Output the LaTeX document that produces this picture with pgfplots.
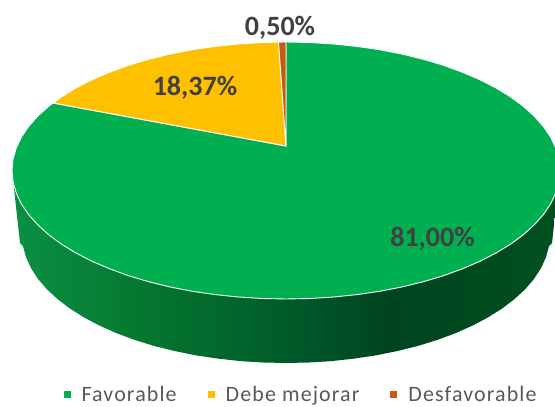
\documentclass[border=0pt]{standalone}
\usepackage{fontspec}
\setmainfont{Carlito}
\newfontfamily\legfont[LetterSpace=5]{Carlito}
\usepackage{pgfplots}
\pgfplotsset{compat=1.18}

\definecolor{fav}{HTML}{00B050}
\definecolor{mej}{HTML}{FFC000}
\definecolor{des}{HTML}{C55A11}
\definecolor{lbl}{HTML}{404040}
\definecolor{leg}{HTML}{595959}
\definecolor{sideA}{HTML}{0A9043}
\definecolor{sideB}{HTML}{04772F}
\definecolor{sideC}{HTML}{005B2A}
\definecolor{sideD}{HTML}{00441F}
\definecolor{sideE}{HTML}{00501F}
% middle 50bp of the shading covers the bounding box of the side
\pgfdeclarehorizontalshading{pieside}{100bp}{
  color(0bp)=(sideA); color(25.4bp)=(sideA); color(37bp)=(sideB);
  color(50bp)=(sideC); color(59.5bp)=(sideD); color(75bp)=(sideE); color(100bp)=(sideE)}

\begin{document}
\begin{tikzpicture}
\path[use as bounding box] (0,0) rectangle (555pt,407pt);
\begin{axis}[
  at={(0,0)}, anchor=south west,
  scale only axis, width=555pt, height=407pt,
  xmin=0, xmax=555, ymin=0, ymax=407, y dir=reverse,
  hide axis,
  legend columns=3,
  legend style={
    at={(0.5425,0.031)}, anchor=center, draw=none, fill=none, inner sep=0pt,
    font=\legfont\fontsize{22}{24}\selectfont, text=leg,
    /tikz/every odd column/.append style={column sep=9pt},
    /tikz/every even column/.append style={column sep=29pt}},
  legend image code/.code={\fill[#1,draw=none] (0pt,-3.5pt) rectangle (7pt,3.5pt);},
]
% side wall, pixel outline
\addplot[draw=none, shade, shading=pieside, forget plot] coordinates {
 (12,170.5)(20,243)(23,246.2)(26,257.2)(31,268.1)(37.9,278.8)(46.7,289.1)(57.4,299)
 (69.7,308.4)(83.8,317.3)(99.3,325.5)(116.3,333.1)(134.6,339.9)(154,345.9)(174.4,351)
 (195.7,355.3)(217.7,358.6)(240.2,361.1)(263,362.5)(286,363)(309,362.5)(331.8,361.1)
 (354.3,358.6)(376.3,355.3)(397.6,351)(418,345.9)(437.4,339.9)(455.7,333.1)(472.7,325.5)
 (488.2,317.3)(502.3,308.4)(514.6,299)(525.3,289.1)(534.1,278.8)(541,268.1)(546,257.2)
 (549,246.2)(552,243)(560,170.5)
} --cycle;
% Favorable
\addplot[fill=fav, draw=white, line width=0.9pt] coordinates {
 (286,146)(286,42)(309.9,42.5)(333.6,44)(356.9,46.4)(379.7,49.7)(401.8,54)(423,59.2)
 (443.2,65.2)(462.1,72.1)(479.7,79.6)(495.9,87.9)(510.5,96.8)(523.3,106.25)(534.3,116.2)
 (543.5,126.6)(550.7,137.2)(555.8,148.2)(559,159.3)(560,170.5)(559,181.7)(555.8,192.8)
 (550.7,203.8)(543.5,214.4)(534.3,224.8)(523.3,234.75)(510.5,244.2)(495.9,253.1)
 (479.7,261.4)(462.1,268.9)(443.2,275.8)(423,281.8)(401.8,287)(379.7,291.3)(356.9,294.6)
 (333.6,297)(309.9,298.5)(286,299)(262.1,298.5)(238.4,297)(215.1,294.6)(192.3,291.3)
 (170.2,287)(149,281.8)(128.8,275.8)(109.9,268.9)(92.3,261.4)(76.1,253.1)(61.5,244.2)
 (48.7,234.75)(37.7,224.8)(28.5,214.4)(21.3,203.8)(16.2,192.8)(13,181.7)(12,170.5)
 (13,159.3)(16.2,148.2)(21.3,137.2)(28.5,126.6)(37.7,116.2)(48.7,106.25)(53,103)
} --cycle;
\addlegendentry{Favorable}
% Debe mejorar
\addplot[fill=mej, draw=white, line width=0.9pt] coordinates {
 (286,146)(53,103)(61.5,96.8)(76.1,87.9)(92.3,79.6)(109.9,72.1)(128.8,65.2)(149,59.2)
 (170.2,54)(192.3,49.7)(215.1,46.4)(238.4,44)(262.1,42.5)(278.5,42.1)
} --cycle;
\addlegendentry{Debe mejorar}
% Desfavorable
\addplot[fill=des, draw=white, line width=0.9pt] coordinates {
 (286,146)(278.5,42.1)(286,42)
} --cycle;
\addlegendentry{Desfavorable}

\node[text=lbl, font=\bfseries\fontsize{28}{30}\selectfont] at (axis cs:432.5,239) {81,00\%};
\node[text=lbl, font=\bfseries\fontsize{28}{30}\selectfont] at (axis cs:195,88) {18,37\%};
\node[text=lbl, font=\bfseries\fontsize{28}{30}\selectfont] at (axis cs:280,28) {0,50\%};
\end{axis}
\end{tikzpicture}
\end{document}
